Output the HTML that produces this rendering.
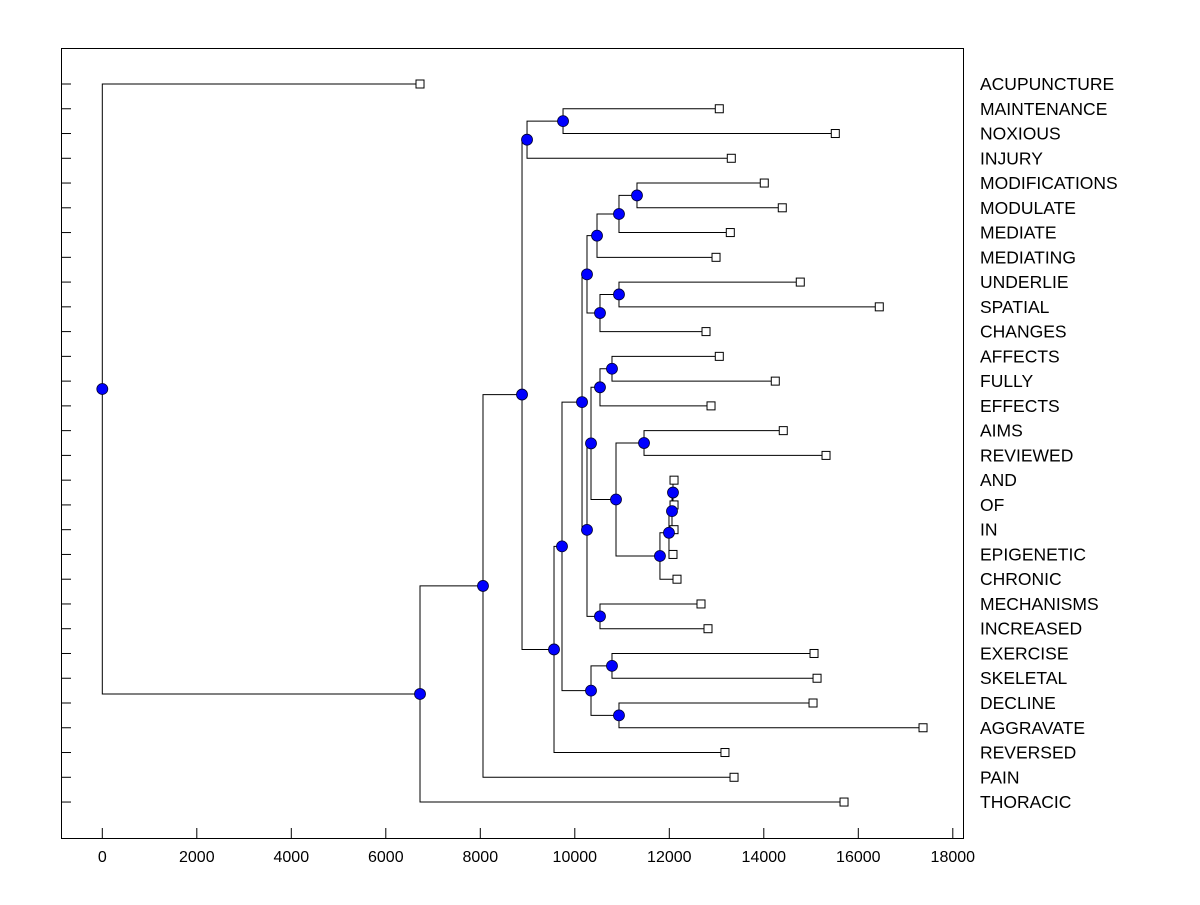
<!DOCTYPE html>
<html><head><meta charset="utf-8"><style>
body{margin:0;background:#fff;}
svg text{font-family:"Liberation Sans",Arial,sans-serif;fill:#000;}
</style></head><body>
<svg id="chart" width="1200" height="900" viewBox="0 0 1200 900" xmlns="http://www.w3.org/2000/svg">
<rect width="1200" height="900" fill="#fff"/>
<rect x="61.5" y="48.5" width="902" height="790" fill="none" stroke="#000" stroke-width="1"/>
<g id="links"></g><g id="marks"></g><g id="axes"></g>
</svg>
<script>
const leafLabels=["ACUPUNCTURE","MAINTENANCE","NOXIOUS","INJURY","MODIFICATIONS","MODULATE","MEDIATE","MEDIATING","UNDERLIE","SPATIAL","CHANGES","AFFECTS","FULLY","EFFECTS","AIMS","REVIEWED","AND","OF","IN","EPIGENETIC","CHRONIC","MECHANISMS","INCREASED","EXERCISE","SKELETAL","DECLINE","AGGRAVATE","REVERSED","PAIN","THORACIC"];
const leafValues=[6724,13058,15513,13312,14010,14391,13291,12989,14772,16444,12777,13058,14243,12883,14412,15317,12100,12100,12100,12078,12163,12671,12819,15063,15127,15042,17370,13178,13370,15698];
const mergeLeft=[16,"m0","m1","m2",14,"m4",11,"m6","m7",21,"m8",4,"m11","m12",8,"m14","m13","m16",23,25,"m18","m17","m21",1,"m23","m24","m25","m26",0];
const mergeRight=[17,18,19,20,15,"m3",12,13,"m5",22,"m9",5,6,7,9,10,"m15","m10",24,26,"m19","m20",27,2,3,"m22",28,29,"m27"];
const mergeHeights=[12078,12057,11993,11802,11465,10872,10787,10533,10343,10533,10258,11316,10935,10470,10935,10533,10258,10153,10787,10935,10343,9729,9560,9751,8989,8883,8057,6724,0];
const xTicks=[0,2000,4000,6000,8000,10000,12000,14000,16000,18000];

const NS="http://www.w3.org/2000/svg";
const X0=102.3,KX=0.04725;
const xs=v=>X0+v*KX;
const ys=i=>84+i*24.76;
const links=document.getElementById('links'),marks=document.getElementById('marks'),axes=document.getElementById('axes');
function mk(tag,attrs,parent){const e=document.createElementNS(NS,tag);for(const k in attrs)e.setAttribute(k,attrs[k]);parent.appendChild(e);return e;}
function pos(ref){
  if(typeof ref==="number")return {x:xs(leafValues[ref]),y:ys(ref)};
  const k=+ref.slice(1);const a=pos(mergeLeft[k]),b=pos(mergeRight[k]);
  return {x:xs(mergeHeights[k]),y:(a.y+b.y)/2};
}
for(let k=0;k<mergeHeights.length;k++){
  const p=pos("m"+k),a=pos(mergeLeft[k]),b=pos(mergeRight[k]);
  const d=`M${a.x},${a.y}H${p.x}V${b.y}H${b.x}`;
  const e=mk('path',{d:d,fill:'none',stroke:'#000','stroke-width':1},links);
  
  
}
leafLabels.forEach((lab,i)=>{
  const x=xs(leafValues[i]),y=ys(i);
  const r=mk('rect',{x:x-4,y:y-4,width:8,height:8,fill:'#fff',stroke:'#000','stroke-width':1},marks);
  
  
  const t=mk('text',{x:980,y:y+6,'font-size':17.5},axes);t.textContent=lab;
  
  
  const tk=mk('line',{x1:61,x2:71,y1:y,y2:y,stroke:'#000'},axes);
  
  
});
for(let k=0;k<mergeHeights.length;k++){
  const p=pos("m"+k);
  const c=mk('circle',{cx:p.x,cy:p.y,r:5.5,fill:'#0000ff',stroke:'#000033','stroke-width':0.8},marks);
  
  
}
xTicks.forEach(v=>{
  const x=xs(v);
  const l=mk('line',{x1:x,x2:x,y1:838,y2:828,stroke:'#000'},axes);
  
  
  const t=mk('text',{x:x,y:862,'font-size':16,'text-anchor':'middle'},axes);t.textContent=v;
  
  
});
</script>
</body></html>
